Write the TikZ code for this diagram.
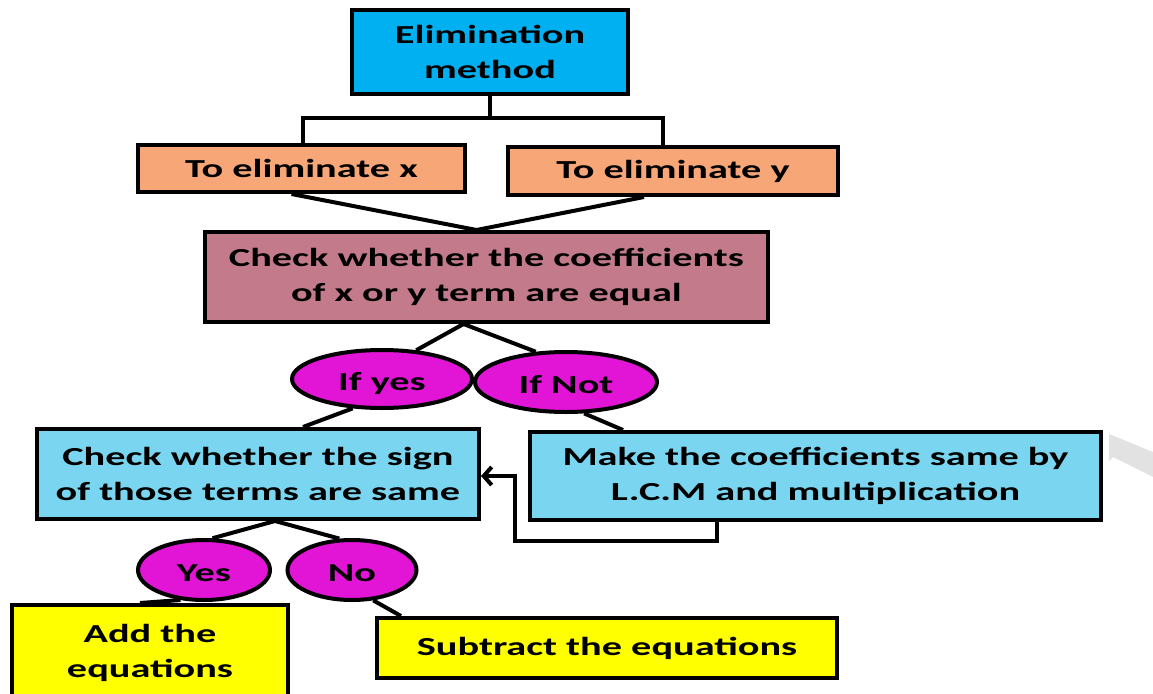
\documentclass[tikz,border=0pt]{standalone}
\usepackage{fontspec}
\newfontfamily\labfont[FakeStretch=1.55]{Carlito}
\usetikzlibrary{arrows.meta,shapes.geometric,calc}
\definecolor{cyanbox}{RGB}{0,176,240}
\definecolor{salmon}{RGB}{247,166,120}
\definecolor{mauve}{RGB}{195,122,138}
\definecolor{lightblue}{RGB}{122,214,240}
\definecolor{magentaell}{RGB}{226,20,214}
\definecolor{yellowbox}{RGB}{255,255,0}
\definecolor{wmgray}{RGB}{226,226,226}
\tikzset{
  box/.style={draw=black, line width=4pt, rectangle, inner sep=0pt, align=center,
    font=\labfont\bfseries\fontsize{26}{35}\selectfont, text=black},
  oval/.style={draw=black, line width=4pt, ellipse, inner sep=0pt, align=center,
    text height=25pt, text depth=3pt,
    font=\labfont\bfseries\fontsize{26}{30}\selectfont, text=black, fill=magentaell},
  conn/.style={draw=black, line width=4pt},
}
\begin{document}
\begin{tikzpicture}[x=1pt,y=-1pt]
\useasboundingbox (0,0) rectangle (1153,693);
% faint watermark fragment
\fill[wmgray] (1109,434) -- (1153,452) -- (1153,477) -- (1113,457) -- (1109,461) -- cycle;

\node[box, fill=cyanbox, minimum width=276pt, minimum height=83pt] (elim) at (490,52) {Elimination\\method};
\node[box, fill=salmon, minimum width=327pt, minimum height=47pt] (tex) at (301.5,168.5) {To eliminate x};
\node[box, fill=salmon, minimum width=330pt, minimum height=48pt] (tey) at (673,171) {To eliminate y};
\node[box, fill=mauve, minimum width=563pt, minimum height=90pt] (check) at (486.5,277) {Check whether the coefficients\\of x or y term are equal};
\node[oval, minimum width=180pt, minimum height=58pt] (ifyes) at (382,379) {If yes};
\node[oval, minimum width=182pt, minimum height=60pt] (ifnot) at (566,382) {If Not};
\node[box, fill=lightblue, minimum width=442pt, minimum height=90pt] (sign) at (258,474) {Check whether the sign\\of those terms are same};
\node[box, fill=lightblue, minimum width=571pt, minimum height=88pt] (make) at (815.5,476) {Make the coefficients same by\\L.C.M and multiplication};
\node[oval, minimum width=132pt, minimum height=60pt] (yes) at (204,570) {Yes};
\node[oval, minimum width=129pt, minimum height=60pt] (no) at (352,570) {No};
\node[box, fill=yellowbox, minimum width=276pt, minimum height=96pt] (add) at (150,653) {Add the\\equations};
\node[box, fill=yellowbox, minimum width=460pt, minimum height=60pt] (sub) at (607,648) {Subtract the equations};

% elimination -> two branches
\coordinate (jt) at ($(elim.south)+(0,22)$);
\draw[conn] (elim.south) -- (jt);
\draw[conn] ([xshift=1.5pt]tex.north) |- (jt) -| ([xshift=-10pt]tey.north);
% branches -> check
\coordinate (cm) at ([xshift=-10pt]check.north);
\draw[conn] ([xshift=-10pt]tex.south) -- (cm);
\draw[conn] ([xshift=-29pt]tey.south) -- (cm);
% check -> if yes / if not
\coordinate (cs) at ([xshift=-23pt]check.south);
\draw[conn] (cs) -- (ifyes.40);
\draw[conn] (cs) -- (ifnot.135);
% if yes -> sign, if not -> make
\draw[conn] (ifyes.225) -- ([xshift=45pt]sign.north);
\draw[conn] (ifnot.300) -- ([xshift=95pt]make.north west);
% loop back
\draw[conn, -{Straight Barb[length=8pt,width=18pt]}] ([xshift=189pt]make.south west) -- ++(0,19) -- ++(-202,0) |- ([yshift=-2pt]sign.east);
% sign -> yes/no
\coordinate (ss) at ([xshift=17pt]sign.south);
\draw[conn] (ss) -- (yes.75);
\draw[conn] (ss) -- (no.112);
% yes -> add, no -> sub
\draw[conn] (yes.232) -- ([xshift=-10pt]add.north);
\draw[conn] (no.305) -- ([xshift=26pt]sub.north west);
\end{tikzpicture}
\end{document}
